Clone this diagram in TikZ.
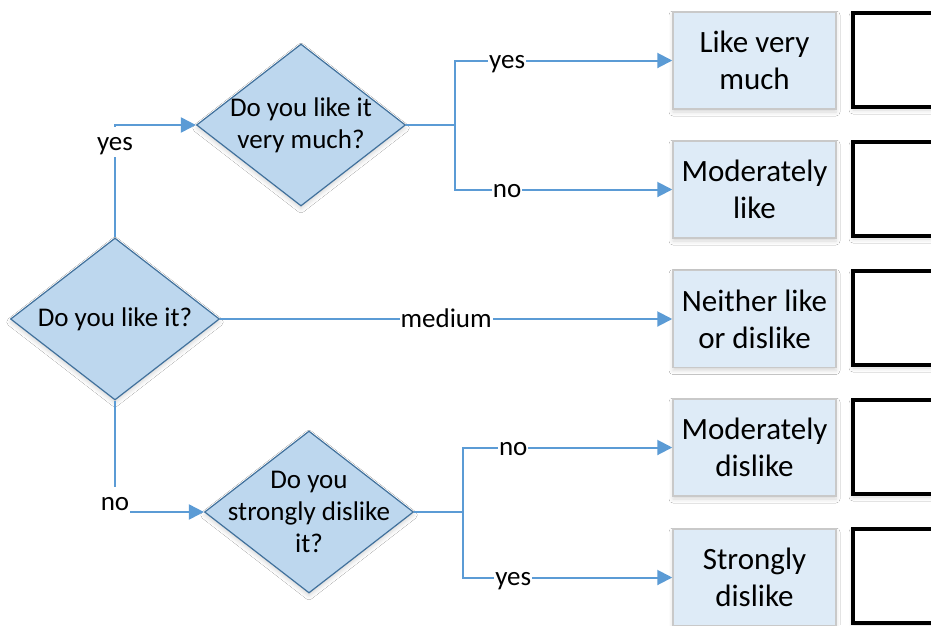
\documentclass[tikz,border=0pt]{standalone}
\usepackage{fontspec}
\setmainfont{Carlito}
\usetikzlibrary{shapes.geometric,arrows.meta,shadows.blur}
\definecolor{linkblue}{HTML}{5B9BD5}
\definecolor{diafill}{HTML}{BDD7EE}
\definecolor{diadraw}{HTML}{41719C}
\definecolor{boxfill}{HTML}{DEEBF7}
\definecolor{boxdraw}{HTML}{C9C9C9}
\begin{document}
\begin{tikzpicture}[x=1pt,y=-1pt,
  shd/.style={blur shadow={shadow xshift=0pt,shadow yshift=-3pt,shadow blur radius=4pt,shadow opacity=16}},
  dia/.style={diamond, draw=diadraw, fill=diafill, line width=1.2pt, minimum width=209pt, minimum height=162pt, inner sep=0pt, shd},
  diatext/.style={align=center, font=\fontsize{27}{32}\selectfont, inner sep=0pt},
  res/.style={rectangle, draw=boxdraw, fill=boxfill, line width=1.5pt, minimum width=163pt, minimum height=97pt, align=center, font=\fontsize{31}{37}\selectfont, inner sep=0pt, shd},
  blank/.style={rectangle, draw=black, fill=white, line width=4pt, minimum width=160pt, minimum height=94pt, shd},
  link/.style={draw=linkblue, line width=2pt},
  arr/.style={link, -{Triangle[length=15pt,width=15pt]}},
  lbl/.style={fill=white, font=\fontsize{27}{32}\selectfont, inner xsep=1pt, inner ysep=0pt, text height=23pt, text depth=7pt}
]
\clip (0,0) rectangle (931,625);
\fill[white] (0,0) rectangle (931,625);

% decision diamonds
\node[dia] (d1) at (301,125) {};
\node[diatext] (t1) at (d1) {Do you like it\\very much?};
\node[dia] (d0) at (115,319) {};
\node[diatext] (t0) at (d0) {Do you like it?};
\node[dia] (d2) at (309,512) {};
\node[diatext] (t2) at (d2) {Do you\\strongly dislike\\it?};

% result boxes
\node[res] (b1) at (754.5,60.5) {Like very\\much};
\node[res] (b2) at (754.5,189.5) {Moderately\\like};
\node[res] (b3) at (754.5,319) {Neither like\\or dislike};
\node[res] (b4) at (754.5,447.5) {Moderately\\dislike};
\node[res] (b5) at (754.5,577.5) {Strongly\\dislike};

% empty boxes
\node[blank] (r1) at (933,60) {};
\node[blank] (r2) at (933,189) {};
\node[blank] (r3) at (933,318) {};
\node[blank] (r4) at (933,447) {};
\node[blank] (r5) at (933,576) {};

% joints
\coordinate (j1) at (455,125);
\coordinate (j2) at (463,512);

% connectors
\draw[arr] (d0.north) |- node[lbl,pos=0.5,yshift=-17pt]{yes} (d1.west);
\draw[link] (d1.east) -- (j1);
\draw[arr] (j1) |- node[lbl,pos=0.62]{yes} (b1.west);
\draw[arr] (j1) |- node[lbl,pos=0.62]{no} (b2.west);
\draw[arr] (d0.east) -- node[lbl]{medium} (b3.west);
\draw[arr] (d0.south) |- node[lbl,pos=0.5,yshift=10pt]{no} (d2.west);
\draw[link] (d2.east) -- (j2);
\draw[arr] (j2) |- node[lbl,pos=0.62]{no} (b4.west);
\draw[arr] (j2) |- node[lbl,pos=0.62]{yes} (b5.west);
\end{tikzpicture}
\end{document}
